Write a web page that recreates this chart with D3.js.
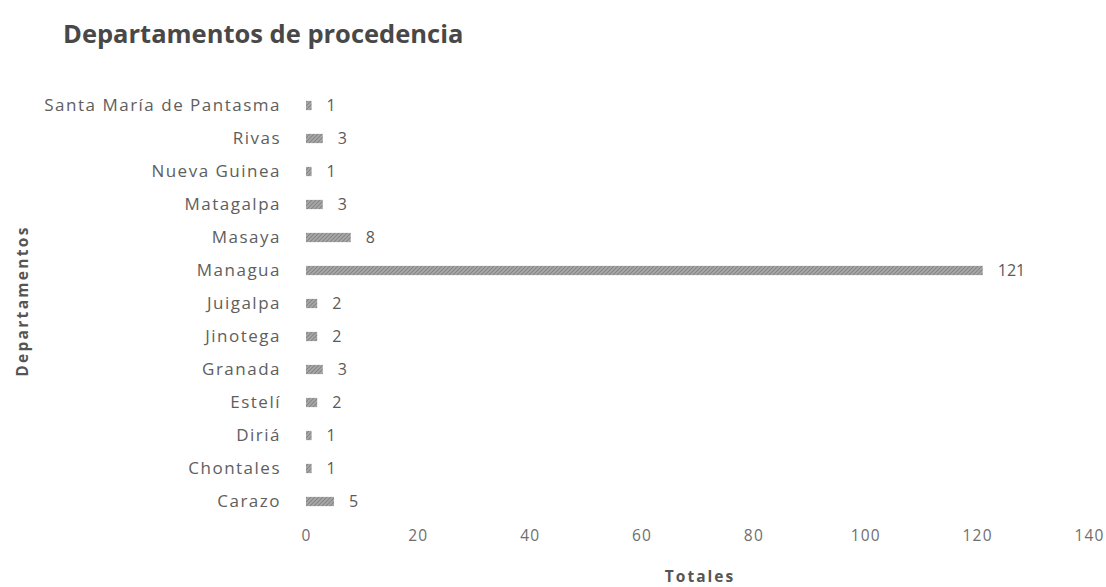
<!DOCTYPE html>
<html><head><meta charset="utf-8">
<script src="https://cdn.jsdelivr.net/npm/d3@7"></script>
<style>body{margin:0;background:#fff;} svg{display:block;}</style>
</head><body>
<svg id="chart" width="1106" height="587"></svg>
<script>
const categories = ["Santa María de Pantasma","Rivas","Nueva Guinea","Matagalpa","Masaya","Managua","Juigalpa","Jinotega","Granada","Estelí","Diriá","Chontales","Carazo"];
const values = [1,3,1,3,8,121,2,2,3,2,1,1,5];
const xTicks = [0,20,40,60,80,100,120,140];
const title = "Departamentos de procedencia";
const xTitle = "Totales";
const yTitle = "Departamentos";

const svg = d3.select("#chart");
const font = "'Open Sans', 'Noto Sans', sans-serif";

const defs = svg.append("defs");
const pat = defs.append("pattern").attr("id","hatch").attr("patternUnits","userSpaceOnUse")
  .attr("width",4).attr("height",4);
pat.append("rect").attr("width",4).attr("height",4).attr("fill","#a8a8a8");
pat.append("path").attr("d","M0,4 L4,0 M-1,1 L1,-1 M3,5 L5,3").attr("stroke","#858585").attr("stroke-width",1.1);

const x = d3.scaleLinear().domain([0,140]).range([306,1089]);
const y = d3.scaleBand().domain(categories).range([89,518]).paddingInner(0.72).paddingOuter(0.36);

svg.append("text").attr("x",63).attr("y",43).attr("font-family",font).attr("font-weight","bold")
  .attr("font-size",25.5).attr("fill","#484848").text(title);

svg.append("g").selectAll("rect").data(values).join("rect")
  .attr("x",x(0)).attr("y",(d,i)=>y(categories[i]))
  .attr("width",d=>x(d)-x(0)).attr("height",y.bandwidth())
  .attr("fill","url(#hatch)");

svg.append("g").selectAll("text").data(values).join("text")
  .attr("x",d=>x(d)+15).attr("y",(d,i)=>y(categories[i])+y.bandwidth()/2)
  .attr("dy","0.36em").attr("font-family",font).attr("font-size",16).attr("fill","#5a5a5a")
  .text(d=>d);

const yAxis = svg.append("g").attr("transform",`translate(${x(0)-4},0)`)
  .call(d3.axisLeft(y).tickSize(0).tickPadding(21));
yAxis.select(".domain").remove();
yAxis.selectAll("text").attr("font-family",font).attr("font-size",17)
  .attr("letter-spacing","1.5px").attr("fill","#5e5e5e");

const xAxis = svg.append("g").attr("transform","translate(0,528)")
  .call(d3.axisBottom(x).tickValues(xTicks).tickSize(0).tickPadding(2));
xAxis.select(".domain").remove();
xAxis.selectAll("text").attr("font-family",font).attr("font-size",15.5)
  .attr("letter-spacing","1.2px").attr("fill","#6e6e6e");

svg.append("text").attr("x",700).attr("y",582).attr("text-anchor","middle")
  .attr("font-family",font).attr("font-weight","bold").attr("font-size",15.5)
  .attr("letter-spacing","2px").attr("fill","#555").text(xTitle);

svg.append("text").attr("transform","translate(28,301) rotate(-90)").attr("text-anchor","middle")
  .attr("font-family",font).attr("font-weight","bold").attr("font-size",15.5)
  .attr("letter-spacing","2.3px").attr("fill","#555").text(yTitle);
</script>
</body></html>
